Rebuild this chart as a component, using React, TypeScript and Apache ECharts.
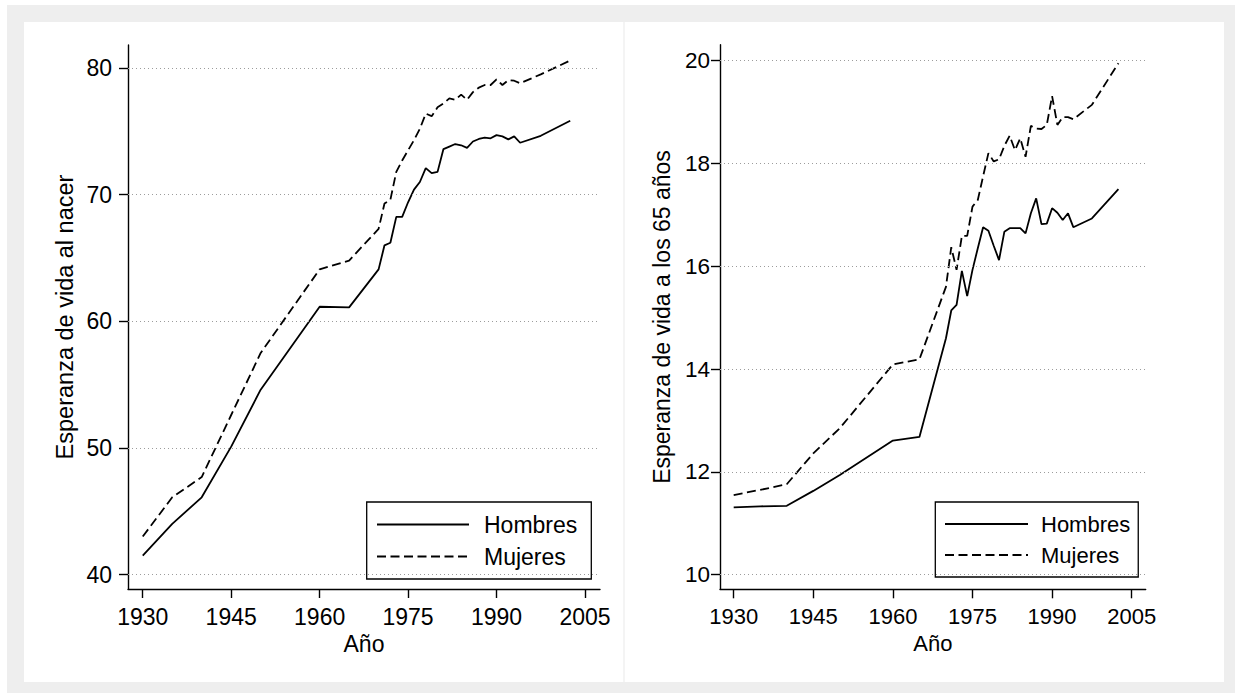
import React, { useEffect, useRef } from "react";
import * as echarts from "echarts";

// ---- data ----
const years = [
  1930, 1935, 1940, 1945, 1950, 1960, 1965, 1970, 1971, 1972, 1973, 1974, 1975,
  1976, 1977, 1978, 1979, 1980, 1981, 1982, 1983, 1984, 1985, 1986, 1987, 1988,
  1989, 1990, 1991, 1992, 1993, 1994, 1997.5, 2002.5,
];
const birthMen = [
  41.5, 44.0, 46.1, 50.1, 54.6, 61.15, 61.1, 64.1, 66.0, 66.2, 68.25, 68.25, 69.4,
  70.4, 71.0, 72.1, 71.7, 71.8, 73.6, 73.8, 74.0, 73.9, 73.7, 74.2, 74.4, 74.5,
  74.45, 74.7, 74.6, 74.37, 74.6, 74.1, 74.65, 75.84,
];
const birthWomen = [
  43.0, 46.1, 47.7, 52.6, 57.5, 64.1, 64.8, 67.3, 69.3, 69.6, 71.8, 72.7, 73.5,
  74.3, 75.2, 76.4, 76.2, 76.9, 77.2, 77.6, 77.5, 77.9, 77.5, 78.1, 78.45, 78.66,
  78.66, 79.1, 78.66, 79.05, 79.0, 78.8, 79.5, 80.6,
];
const at65Men = [
  11.31, 11.33, 11.34, 11.63, 11.94, 12.61, 12.68, 14.6, 15.14, 15.25, 15.91, 15.42, 15.93,
  16.35, 16.76, 16.69, 16.4, 16.12, 16.67, 16.74, 16.74, 16.74, 16.64, 17.03, 17.32, 16.82,
  16.83, 17.13, 17.04, 16.9, 17.03, 16.76, 16.93, 17.5,
];
const at65Women = [
  11.55, 11.65, 11.76, 12.36, 12.85, 14.09, 14.19, 15.6, 16.37, 15.93, 16.59, 16.59, 17.16,
  17.29, 17.75, 18.2, 18.04, 18.08, 18.34, 18.54, 18.26, 18.49, 18.13, 18.73, 18.68, 18.67,
  18.75, 19.31, 18.75, 18.9, 18.9, 18.86, 19.14, 19.95,
];
const xTicks = [1930, 1945, 1960, 1975, 1990, 2005];
const birthTicks = [40, 50, 60, 70, 80];
const at65Ticks = [10, 12, 14, 16, 18, 20];
const seriesNames = ["Hombres", "Mujeres"];
const xTitle = "Año";
const yTitles = ["Esperanza de vida al nacer", "Esperanza de vida a los 65 años"];

const FONT = "'Liberation Sans', Arial, Helvetica, sans-serif";
const BLACK = "#000";

export default function App() {
  const ref = useRef<HTMLDivElement>(null);

  useEffect(() => {
    const chart = echarts.init(ref.current as HTMLDivElement, null, { renderer: "svg" });
    const pair = (vals: number[]) => years.map((y, i) => [y, vals[i]]);
    const fmt = (v: number) => String(v);

    const xAxis = (gridIndex: number, min: number, max: number, fs: number) => ({
      type: "value",
      gridIndex,
      min,
      max,
      name: xTitle,
      nameLocation: "middle",
      nameGap: 41,
      nameTextStyle: { fontSize: fs, color: BLACK, fontFamily: FONT },
      axisLine: { show: true, onZero: false, lineStyle: { color: BLACK, width: 1.4 } },
      axisTick: { show: true, length: 9, customValues: xTicks, lineStyle: { color: BLACK, width: 1.4 } },
      axisLabel: {
        customValues: xTicks,
        formatter: fmt,
        fontSize: fs,
        color: BLACK,
        fontFamily: FONT,
        margin: 16,
      },
      splitLine: { show: false },
    });

    const yAxis = (
      gridIndex: number,
      min: number,
      max: number,
      ticks: number[],
      fs: number,
      title: string,
      gap: number,
      margin: number
    ) => ({
      type: "value",
      gridIndex,
      min,
      max,
      name: title,
      nameLocation: "middle",
      nameGap: gap,
      nameTextStyle: { fontSize: fs + 0.5, color: BLACK, fontFamily: FONT },
      axisLine: { show: true, onZero: false, lineStyle: { color: BLACK, width: 1.4 } },
      axisTick: { show: true, length: 9, customValues: ticks, lineStyle: { color: BLACK, width: 1.4 } },
      axisLabel: {
        customValues: ticks,
        formatter: fmt,
        fontSize: fs,
        color: BLACK,
        fontFamily: FONT,
        margin,
      },
      splitLine: { show: false },
    });

    const gridLines = (ticks: number[]) => ({
      silent: true,
      symbol: ["none", "none"],
      label: { show: false },
      lineStyle: { color: "#9c9c9c", type: [1, 3], width: 1 },
      emphasis: { disabled: true },
      data: ticks.map((t) => ({ yAxis: t })),
    });

    const mkSeries = (idx: number, men: number[], women: number[], ticks: number[]) => [
      {
        type: "line",
        name: seriesNames[0],
        xAxisIndex: idx,
        yAxisIndex: idx,
        data: pair(men),
        symbol: "none",
        lineStyle: { color: BLACK, width: 1.8, type: "solid" },
        itemStyle: { color: BLACK },
        markLine: gridLines(ticks),
        z: 3,
      },
      {
        type: "line",
        name: seriesNames[1],
        xAxisIndex: idx,
        yAxisIndex: idx,
        data: pair(women),
        symbol: "none",
        lineStyle: { color: BLACK, width: 1.8, type: [9, 4.5] },
        itemStyle: { color: BLACK },
        z: 3,
      },
    ];

    const legend = (left: number, width: number, fs: number, padL: number, padR: number, textPad: number) => ({
      show: true,
      orient: "vertical",
      left,
      top: 502,
      data: seriesNames,
      selectedMode: false,
      itemWidth: width,
      itemHeight: 24,
      itemGap: 9,
      padding: [11, padR, 11, padL],
      borderColor: BLACK,
      borderWidth: 1.3,
      borderRadius: 0,
      backgroundColor: "#fff",
      itemStyle: { color: "rgba(0,0,0,0)", borderColor: "rgba(0,0,0,0)", borderWidth: 0, opacity: 0 },
      textStyle: { fontSize: fs, color: BLACK, fontFamily: FONT, padding: [0, 0, 0, textPad] },
    });

    const option = {
      animation: false,
      backgroundColor: "#fff",
      textStyle: { fontFamily: FONT },
      graphic: [
        { type: "rect", z: -10, silent: true, shape: { x: 7, y: 5, width: 1228, height: 688 }, style: { fill: "#eeeeee" } },
        { type: "rect", z: -9, silent: true, shape: { x: 24, y: 22, width: 599, height: 660 }, style: { fill: "#ffffff" } },
        { type: "rect", z: -9, silent: true, shape: { x: 623, y: 22, width: 2, height: 660 }, style: { fill: "#f4f4f4" } },
        { type: "rect", z: -9, silent: true, shape: { x: 625, y: 22, width: 599, height: 660 }, style: { fill: "#ffffff" } },
      ],
      grid: [
        { left: 128, top: 45, width: 472, height: 544 },
        { left: 720, top: 44.7, width: 425.7, height: 544.6 },
      ],
      xAxis: [xAxis(0, 1927.5, 2007.55, 23), xAxis(1, 1927.42, 2007.64, 22)],
      yAxis: [
        yAxis(0, 38.86, 81.82, birthTicks, 23, yTitles[0], 51, 16),
        yAxis(1, 9.716, 20.31, at65Ticks, 22.5, yTitles[1], 47, 10),
      ],
      legend: [legend(366.7, 92, 23, 9.3, 14, 10), legend(935.3, 83, 22, 8.7, 8, 8)],
      series: [
        ...mkSeries(0, birthMen, birthWomen, birthTicks),
        ...mkSeries(1, at65Men, at65Women, at65Ticks),
      ],
    };

    chart.setOption(option as any);
    return () => chart.dispose();
  }, []);

  return (
    <div
      ref={ref}
      style={{ position: "fixed", left: 0, top: 0, width: 1235, height: 693 }}
    />
  );
}
